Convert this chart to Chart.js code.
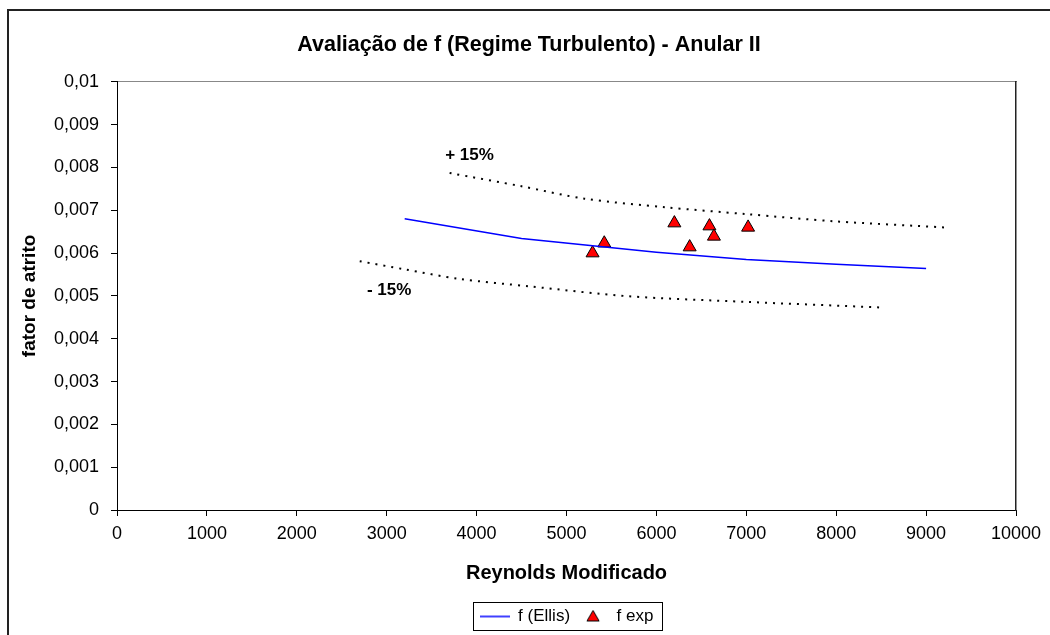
<!DOCTYPE html>
<html>
<head>
<meta charset="utf-8">
<script src="https://cdn.jsdelivr.net/npm/chart.js@4/dist/chart.umd.min.js"></script>
<style>
  html, body { margin: 0; padding: 0; background: #fff; overflow: hidden; }
  #wrap { position: relative; width: 1050px; height: 635px; }
  #frame { position: absolute; left: 7px; top: 9px; width: 1100px; height: 700px; border: 2px solid #222; pointer-events: none; }
  #c { position: absolute; left: 0; top: 0; }
</style>
</head>
<body>
<div id="wrap">
  <div id="frame"></div>
  <canvas id="c" width="1050" height="635"></canvas>
</div>
<script>
// ---- data ----
const ellisX = [3200, 4500, 6000, 7000, 8000, 9000];
const ellisY = [0.0068, 0.00634, 0.00602, 0.00585, 0.00574, 0.00564];

const expX = [5290, 5420, 6200, 6370, 6590, 6640, 7020];
const expY = [0.0060, 0.00623, 0.00670, 0.00614, 0.00663, 0.00639, 0.00660];

const upperX = [3700, 4500, 5200, 6100, 7000, 8000, 9200];
const upperY = [0.00787, 0.00756, 0.00727, 0.00707, 0.00691, 0.00674, 0.0066];

const lowerX = [2700, 3200, 3800, 4600, 5700, 7000, 8500];
const lowerY = [0.00581, 0.00562, 0.0054, 0.00522, 0.00499, 0.00486, 0.00473];

const noteLabels = ['+ 15%', '- 15%'];
const noteX = [3650, 2780];
const noteY = [0.00828, 0.00514];

const xTickLabels = ['0','1000','2000','3000','4000','5000','6000','7000','8000','9000','10000'];
const yTickLabels = ['0','0,001','0,002','0,003','0,004','0,005','0,006','0,007','0,008','0,009','0,01'];

const seriesNames = ['f (Ellis)', 'f exp'];
const titleText = 'Avaliação de f (Regime Turbulento) - Anular II';
const xTitle = 'Reynolds Modificado';
const yTitle = 'fator de atrito';

// ---- helpers ----
const pts = (xs, ys) => xs.map((x, i) => ({x: x, y: ys[i]}));
const FONT = "'Liberation Sans', Arial, sans-serif";
Chart.defaults.color = '#000';
Chart.defaults.font.family = FONT;

// legend icons
function lineIcon() {
  const c = document.createElement('canvas'); c.width = 30; c.height = 4;
  const g = c.getContext('2d'); g.strokeStyle = '#0000ff'; g.lineWidth = 1.5;
  g.beginPath(); g.moveTo(0, 2); g.lineTo(30, 2); g.stroke(); return c;
}
function triIcon() {
  const c = document.createElement('canvas'); c.width = 16; c.height = 16;
  const g = c.getContext('2d'); const r = 7, cx = 8, cy = 9;
  g.beginPath();
  g.moveTo(cx, cy - r);
  g.lineTo(cx + r * Math.sin(2 * Math.PI / 3), cy - r * Math.cos(2 * Math.PI / 3));
  g.lineTo(cx + r * Math.sin(4 * Math.PI / 3), cy - r * Math.cos(4 * Math.PI / 3));
  g.closePath(); g.fillStyle = '#ff0000'; g.fill(); g.strokeStyle = '#000'; g.lineWidth = 1; g.stroke();
  return c;
}
const icons = [lineIcon(), triIcon()];

const notesPlugin = {
  id: 'notes',
  afterDatasetsDraw(chart) {
    const {ctx, scales: {x, y}} = chart;
    ctx.save();
    ctx.font = "bold 17px " + FONT;
    ctx.fillStyle = '#000';
    ctx.textAlign = 'left';
    ctx.textBaseline = 'middle';
    noteLabels.forEach((t, i) => ctx.fillText(t, x.getPixelForValue(noteX[i]), y.getPixelForValue(noteY[i])));
    ctx.restore();
  }
};
const legendBox = {
  id: 'legendBox',
  afterDraw(chart) {
    const boxes = chart.legend && chart.legend.legendHitBoxes;
    if (!boxes || !boxes.length) return;
    let l = Infinity, r = -Infinity, t = Infinity, b = -Infinity;
    boxes.forEach(h => { l = Math.min(l, h.left); r = Math.max(r, h.left + h.width); t = Math.min(t, h.top); b = Math.max(b, h.top + h.height); });
    const ctx = chart.ctx;
    ctx.save(); ctx.strokeStyle = '#000'; ctx.lineWidth = 1;
    ctx.strokeRect(Math.round(l - 7) + 0.5, Math.round(t - 6) + 0.5, Math.round(r - l + 15), Math.round(b - t + 11));
    ctx.restore();
  }
};

new Chart(document.getElementById('c'), {
  data: {
    datasets: [
      { type: 'line', label: seriesNames[0], data: pts(ellisX, ellisY), borderColor: '#0000ff', backgroundColor: '#0000ff', borderWidth: 1.5, pointRadius: 0, tension: 0, fill: false },
      { type: 'scatter', label: seriesNames[1], data: pts(expX, expY), pointStyle: 'triangle', pointRadius: 7.5, backgroundColor: '#ff0000', borderColor: '#000', borderWidth: 1 },
      { type: 'line', label: 'upper', data: pts(upperX, upperY), borderColor: '#000', borderWidth: 2, borderDash: [2, 6], pointRadius: 0, tension: 0.3, fill: false },
      { type: 'line', label: 'lower', data: pts(lowerX, lowerY), borderColor: '#000', borderWidth: 2, borderDash: [2, 6], pointRadius: 0, tension: 0.3, fill: false }
    ]
  },
  options: {
    responsive: false,
    animation: false,
    devicePixelRatio: 1,
    layout: { padding: { left: 8, right: 0, top: 10, bottom: 0 } },
    plugins: {
      title: { display: true, text: titleText, font: { size: 21.5, weight: 'bold', family: FONT }, color: '#000', padding: { top: 22, bottom: 24 } },
      tooltip: { enabled: false },
      legend: {
        position: 'bottom',
        fullSize: false,
        labels: {
          font: { size: 17, family: FONT },
          color: '#000',
          padding: 8,
          usePointStyle: true,
          pointStyleWidth: 30,
          filter: (item) => item.datasetIndex < 2,
          generateLabels: (chart) => {
            const items = Chart.defaults.plugins.legend.labels.generateLabels(chart);
            items.forEach(it => { if (it.datasetIndex < 2) it.pointStyle = icons[it.datasetIndex]; });
            return items;
          }
        }
      }
    },
    scales: {
      x: {
        type: 'linear', position: 'bottom', min: 0, max: 10000,
        afterFit: (s) => { s.height = 90; },
        ticks: { stepSize: 1000, font: { size: 18, family: FONT }, color: '#000', padding: 7, maxRotation: 0, callback: (v, i) => xTickLabels[i] },
        grid: { display: true, drawOnChartArea: false, drawTicks: true, tickLength: 6, color: '#000' },
        border: { display: true, color: '#000', width: 1 },
        title: { display: true, text: xTitle, font: { size: 20, weight: 'bold', family: FONT }, color: '#000', padding: { top: 0, bottom: 15 } }
      },
      x2: {
        type: 'linear', position: 'top', min: 0, max: 10000,
        afterFit: (s) => { s.height = 0; },
        ticks: { display: false },
        grid: { display: false },
        border: { display: true, color: '#888', width: 1 }
      },
      y: {
        type: 'linear', position: 'left', min: 0, max: 0.01,
        afterFit: (s) => { s.width = 109; },
        ticks: { stepSize: 0.001, font: { size: 18, family: FONT }, color: '#000', padding: 12, callback: (v, i) => yTickLabels[i] },
        grid: { display: true, drawOnChartArea: false, drawTicks: true, tickLength: 6, color: '#000' },
        border: { display: true, color: '#000', width: 1 },
        title: { display: true, text: yTitle, font: { size: 19, weight: 'bold', family: FONT }, color: '#000', padding: { top: 10, bottom: 0 } }
      },
      y2: {
        type: 'linear', position: 'right', min: 0, max: 1,
        afterFit: (s) => { s.width = 34; },
        ticks: { display: false },
        grid: { display: false },
        border: { display: true, color: '#222', width: 1.5 }
      }
    }
  },
  plugins: [notesPlugin, legendBox]
});
</script>
</body>
</html>
